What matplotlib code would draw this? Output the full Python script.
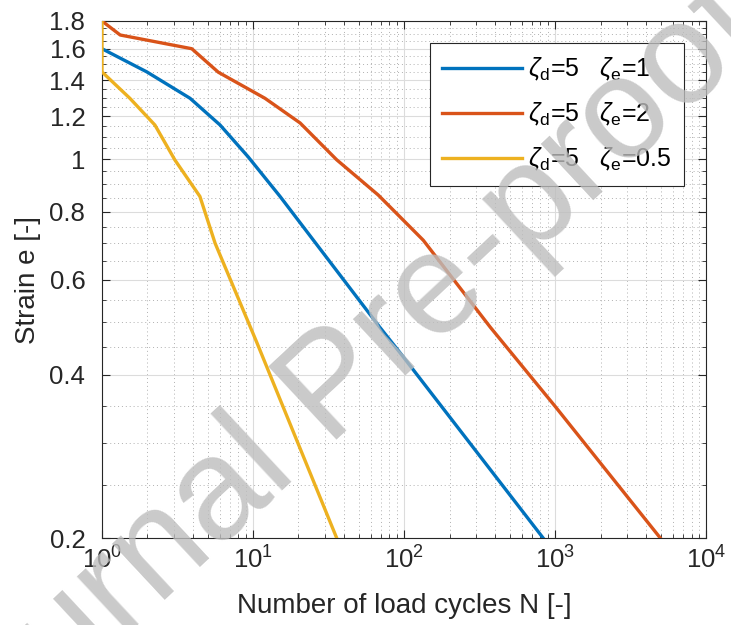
import numpy as np
import matplotlib
matplotlib.use('Agg')
import matplotlib.pyplot as plt
from matplotlib.ticker import FixedLocator, FixedFormatter, LogLocator

plt.rcParams['font.family'] = ['Liberation Sans', 'DejaVu Sans']
plt.rcParams['mathtext.fontset'] = 'custom'
plt.rcParams['mathtext.rm'] = 'Liberation Sans'
plt.rcParams['mathtext.it'] = 'Liberation Sans:italic'
plt.rcParams['mathtext.bf'] = 'Liberation Sans:bold'

# values
n_blue = [1, 1.98, 3.83, 6.05, 9.3, 15.1, 69, 100, 833]
e_blue = [1.6, 1.45, 1.296, 1.157, 1.01, 0.854, 0.49, 0.43, 0.2]

n_red = [1, 1.32, 3.93, 5.89, 12, 20.5, 35.8, 67.5, 134, 372, 1000, 4970]
e_red = [1.8, 1.696, 1.6, 1.448, 1.296, 1.167, 0.998, 0.859, 0.709, 0.49, 0.35, 0.2]

n_yel = [1, 1, 1.53, 2.24, 3.04, 4.45, 5.61, 10.6, 35.8]
e_yel = [1.8, 1.45, 1.296, 1.157, 0.997, 0.854, 0.70, 0.459, 0.2]

labels = [r'$\zeta_\mathrm{d}$=5   $\zeta_\mathrm{e}$=1',
          r'$\zeta_\mathrm{d}$=5   $\zeta_\mathrm{e}$=2',
          r'$\zeta_\mathrm{d}$=5   $\zeta_\mathrm{e}$=0.5']
colors = ['#0072BD', '#D95319', '#EDB120']

yticks = [0.2, 0.4, 0.6, 0.8, 1, 1.2, 1.4, 1.6, 1.8]
ytick_labels = ['0.2', '0.4', '0.6', '0.8', '1', '1.2', '1.4', '1.6', '1.8']
yminor = [0.25, 0.3, 0.35, 0.45, 0.5, 0.55, 0.65, 0.7, 0.75, 0.85, 0.9, 0.95,
          1.05, 1.1, 1.15, 1.25, 1.3, 1.35, 1.45, 1.5, 1.55, 1.65, 1.7, 1.75]
xticks = [1, 10, 100, 1000, 10000]
xtick_labels = [r'$10^{0}$', r'$10^{1}$', r'$10^{2}$', r'$10^{3}$', r'$10^{4}$']

fig = plt.figure(figsize=(7.31, 6.25), dpi=100)
ax = fig.add_axes([0.1395, 0.1392, 0.8265, 0.8272])

for n, e, lab, c in zip([n_blue, n_red, n_yel], [e_blue, e_red, e_yel], labels, colors):
    ax.plot(n, e, color=c, lw=2.4, label=lab, zorder=3)

ax.set_xscale('log')
ax.set_yscale('log')
ax.set_xlim(1, 1e4)
ax.set_ylim(0.2, 1.8)

ax.yaxis.set_major_locator(FixedLocator(yticks))
ax.yaxis.set_major_formatter(FixedFormatter(ytick_labels))
ax.yaxis.set_minor_locator(FixedLocator(yminor))
ax.yaxis.set_minor_formatter(FixedFormatter([]))
ax.xaxis.set_major_locator(FixedLocator(xticks))
ax.xaxis.set_major_formatter(FixedFormatter(xtick_labels))
ax.xaxis.set_minor_locator(LogLocator(base=10, subs=np.arange(2, 10), numticks=10))

ax.tick_params(which='both', direction='in', top=True, right=True, colors='#262626', labelsize=18.5)
ax.tick_params(which='major', length=6, width=0.8)
ax.tick_params(which='minor', length=3, width=0.6)
ax.tick_params(axis='x', which='major', pad=6)
ax.tick_params(axis='y', which='major', pad=12)

ax.grid(which='major', color='#dcdcdc', lw=0.8, ls='-')
ax.grid(which='minor', color='#b0b0b0', lw=0.7, ls=(0, (1, 3)))
ax.set_axisbelow(True)
for s in ax.spines.values():
    s.set_color('#262626')
    s.set_linewidth(0.8)

ax.set_xlabel('Number of load cycles N [-]', fontsize=20, color='#262626', labelpad=14)
ax.set_ylabel('Strain e [-]', fontsize=20, color='#262626', labelpad=6)

leg = ax.legend(loc='upper right', bbox_to_anchor=(0.964, 0.957), fontsize=18,
                handlelength=3.2, handletextpad=0.25, labelspacing=0.72,
                borderpad=0.5, borderaxespad=0, fancybox=False, framealpha=1,
                edgecolor='#262626')
leg.get_frame().set_linewidth(0.8)

# watermark
fig.text(335 / 731, 1 - 390 / 625, 'Journal Pre-proof', fontsize=104,
         color='#bdbdbd', alpha=0.8, rotation=43, ha='center', va='center', zorder=10)

fig.savefig('out.png', dpi=100)
